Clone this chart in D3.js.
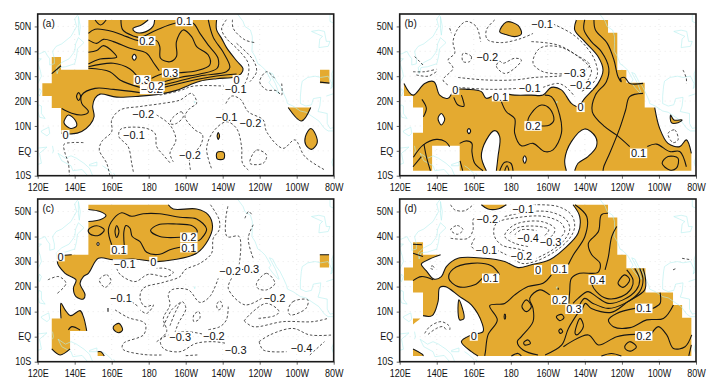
<!DOCTYPE html>
<html><head><meta charset="utf-8">
<script src="https://cdn.jsdelivr.net/npm/d3@7"></script>
<style>html,body{margin:0;padding:0;background:#fff}svg{display:block}text{font-family:"Liberation Sans",Arial,sans-serif;fill:#111}</style>
</head><body><svg id="c" width="715" height="389"></svg>
<script>
// Axis ticks
const lonTicks=[120,140,160,180,200,220,240,260,280];
const lonLabels=["120E","140E","160E","180","160W","140W","120W","100W","80W"];
const latTicks=[-10,0,10,20,30,40,50];
const latLabels=["10S","EQ","10N","20N","30N","40N","50N"];
const panelNames=["(a)","(b)","(c)","(d)"];

// Coastlines [lon,lat]
const coasts=[
[[143,56],[140,53],[141,50],[138,46],[133,43],[130,42],[128,40],[129,37],[129,35],[126.5,34.5],[126.5,37],[125,38.5],[124,40],[121,39],[119,39]],
[[119,37],[122,37],[120,35.5],[121.5,32],[122,30],[120,27],[118,24.5]],
[[130.5,31],[131.5,33.5],[135,33.8],[140,35],[141,38],[141.5,41],[145,43.5],[142,45.5],[140.5,43],[140,40],[137,37],[133,35.5],[130,33.5],[130.5,31]],
[[142,54],[143,50],[142.5,46.5],[142,49],[142,54]],
[[121,25],[122,24],[121,22],[120.2,23],[121,25]],
[[120.5,18.5],[122,18],[122,15],[124,13],[121,13.5],[120,16],[120.5,18.5]],
[[122,8],[126,9.5],[126.5,7],[125,6],[122,7.5],[122,8]],
[[119,1],[125,1.5],[121,-1],[122,-5],[120,-5.5],[119.5,-2]],
[[128,2],[128.5,0],[128,-1]],
[[131,-1],[135,-3],[138,-2],[141,-3],[145,-5],[148,-7],[150,-10.5],[147,-10],[144,-7.5],[139,-8],[138,-6],[133,-4],[131,-1]],
[[148,-5.5],[152,-4.5],[152,-6],[148,-6],[148,-5.5]],
[[155,-6],[157,-7],[160,-9]],
[[205,20],[204.5,19.5],[205,19.2],[205,20]],
[[222,56],[228,55],[231,52],[232,50],[235,48.5],[236,46],[236,43],[235.8,40],[237.5,38],[239,35],[241,34],[243,32.5],[245,30],[246,28.5],[245,27.5],[247,25.5],[250,23],[250.5,23],[248.5,27],[246,30.5],[245.3,31.5],[247,31],[249,28],[251,26],[253,23],[254.5,20.5],[255,19],[258,18],[262,16],[265,15.5],[268,14],[272,12],[275,9],[277,8],[281,8]],
[[262.5,26],[262,22],[262,19],[265,18],[268,18.5],[269,21],[273,21.5],[272.5,18],[271.5,15.8],[276.5,15],[276.5,11],[278,9],[281,9.5]],
[[262.5,26],[263,28],[266,29.5],[270,30],[273,29.5],[277,30],[279,27],[278.5,25],[279.5,26],[279,31],[281,35]],
[[272,41.5],[272.5,45],[274,46],[271,47],[268,48],[272,48.5],[275,48],[276,44],[278,44],[277,42],[272,41.5]],
[[278,56],[278,52],[281,51]],
[[280,-2.5],[279,-4.5],[279.5,-6],[281,-8]],
[[276,22],[280,23],[281,22.5]],
[[161,-9],[162,-10]]
];

// Panel (a). Third element 1 marks a corner of the data mask.
const aShade=[
[[147.4,52.6,1],[216.7,52.6,1],[216.7,48.6],[219.4,45.2],[222,41.6],[227.5,36.2],[231,33],[230,31],[226.7,29.7],[216.8,29],[207.7,28],[202.4,26.6],[195,24.3],[186,22.8],[175.3,22],[162.7,21.6],[153.7,22.8],[151,21.2],[149.7,17.9],[150.5,13.8],[148.3,10.5],[143.8,7.8],[138.4,6.8],[132.6,7.1,1],[132.6,17.2,1],[127.6,17.2,1],[127.6,22,1],[122.5,22,1],[122.5,27.2,1],[127.6,27.2,1],[127.6,37.7,1],[132.6,37.7,1],[132.6,32.6,1],[147.4,32.6,1]],
[[183.2,52.6,1],[182.3,50],[176.9,47.5],[172.4,47.9],[171.5,49.2],[176,50.6],[179.7,52.6,1]],
[[136.6,14.4],[140.2,12.4],[141,10],[137.8,9],[134.2,11.3]],
[[171.1,37.6],[172.2,38.8],[173.3,37.6],[172.2,36.4]],
[[217,6],[217.6,7.3],[218.3,6],[217.6,4.6]],
[[217,-.6],[220.6,-.6],[220.6,-3.2],[217,-3.2]],
[[267.6,9],[270.3,6.4],[271,3],[268,.6],[264.9,2.4],[264.7,5.7]],
[[255.4,17.4,1],[267.6,17.4,1],[262.6,12]],
[[272.6,32.6,1],[277.7,32.6,1],[277.7,27.2,1],[272.6,27.2,1]]
];
const aSolid=[
[[165,52.6],[166,48.6],[171.7,46.2],[175.3,45.6],[184.3,48.6],[194.2,51.3],[203.7,51.5],[207.7,47.2],[212.2,42.5],[217.5,37.2],[217,33.2],[207.7,30.9],[196.9,29.5],[186.4,27.4]],
[[147.4,47.2],[151,48.9],[160.9,47.9],[168,45.9],[174.4,44.3],[184.3,44.3],[186,41.9],[186.4,37.2],[191.5,35.8],[195,37.9],[195,43.9],[198.7,48.6],[203.2,45.9],[205.9,41.9],[212.2,38.5],[213,34.5],[205.9,32.2],[196.5,31.4],[187,30.9],[181.6,29.1]],
[[147.4,44.6],[151.9,43.2],[155.5,44.8],[160.9,43.9],[169.9,41.2],[178.9,39.2],[182.8,35.2],[185.7,32.2]],
[[147.4,39.6],[151.9,40.3],[155.5,42.3],[160.9,39.6],[162.7,37.6],[153.7,36.9],[147.4,34.9]],
[[147.4,33.8],[160.9,35.2],[169.9,32.9],[173.5,30.2]],
[[147.4,33.2],[159,31.8],[164.5,28.5],[175.3,25.5]],
[[175.3,23.4],[160.9,24.7],[151,25.1],[143.8,22.4],[143.8,19.1],[147.4,15.7],[143.8,14.4],[138.4,15.1],[133,17]],
[[186,25.1],[200.5,27.8],[216.7,30.1],[227.5,30.9]],
[[186,26.1],[195,27.8],[207.7,30.1],[222,31.8],[223.9,33.6],[220.3,39.6],[214.9,45.6],[212.2,52.6]],
[[127.6,31],[132.6,34.2]],
[[151,52.6],[154,50.6],[157,52.6]],
[[272.6,27.6],[277.7,27.2]]
];
const aLoops=[[[141,21.8],[142.1,23.4],[143.2,21.8],[142.1,20.2]]];
const aDashed=[
[[144.7,3.3],[138.4,3.3],[134.2,2.6],[134.8,-1],[136.6,-5],[137.1,-9.8]],
[[159,-10],[157.3,-5],[153.3,.3],[154.6,3.7],[160,7.7],[160,12.4],[164.5,16.4],[175.3,17.8],[187.9,19.1],[196.9,20.4],[203.2,23.1],[205.9,19.1],[202.3,17.1],[199.6,13.8],[205,8.4],[209.1,6.4],[207.7,1.7],[202.3,-2.3],[202.6,-7.7]],
[[171.7,-8.4],[170.8,-5],[168.9,1.7],[163.9,5.7],[164.5,8.4],[167.2,9.3],[178.9,9],[183.4,7],[184.3,1.7],[187.9,-1.7],[191.5,-4.8]],
[[184.3,14.4],[191.5,10.4],[194.7,4.4],[191.5,-1],[193.3,-4.4]],
[[213.9,-7],[211.3,1],[214.9,7.7],[222,11.7],[227.5,9],[230.2,1.7],[230.7,-5],[233.8,-7.7]],
[[221.7,19],[224.8,22],[229.6,20.7],[233.8,15.7],[241.9,12.4],[243.7,7.7],[252.6,1],[259,4.4],[264.4,-2.3],[275.2,-7.7]],
[[186,22.4],[196.9,24.2],[204,26],[221.2,26]],
[[222,52.7],[219.4,49],[222,45.2],[228.4,40.6],[233.8,35.2],[233.8,30.5],[232,27]],
[[225.3,52.7],[225.7,49.2],[232,44.6],[237.4,43.5]],
[[227.5,43.2],[236.5,36.5],[238.3,31.8],[234.7,27.8]],
[[248,29.2],[243.7,31.8],[240,27.8],[243.7,24.5],[249,24.2],[251.8,22.4],[251.8,27.8]]
];
const aDashedLoops=[
[[192,12.4],[197.7,15.7],[198.7,13.8],[195,11],[192,10.8]],
[[234.7,-5],[238.3,.3],[243.7,-1.7],[241.9,-5]]
];
const aLabelText=["−0.2","0.1","0.2","0.3","0.3","0.2","0","−0.1","−0.2","−0.1","−0.2","−0.1","−0.2","0"];
const aLabelLon=[181.6,199.2,179,191.8,176.5,184,227.5,227,177,172,202.3,222,235,135];
const aLabelLat=[24.7,52,44.2,31.4,28.5,26,28.5,25,14.7,6.4,-1.7,13.7,11,6.4];

// Panel (b)
const bShade=[
[[122.3,27.1,1],[127.2,22.4],[133.5,27.1],[138.5,27.8],[141.6,22.4],[146.1,21.1],[149.7,24.5],[156.9,24.7],[164.1,23.8],[166.8,21.1],[173.1,23.1],[182.1,22.4],[191.1,22.4],[197.4,22.4],[201.9,25.5],[207.3,24.5],[212.7,19.1],[216.3,17.8],[219.9,21.1],[227.1,27.1],[229.8,32.5],[227.1,37.9],[219.9,43.9],[214.5,48.6],[215.4,52.6,1],[232.5,52.6,1],[232.5,47.5,1],[237.5,47.5,1],[237.5,32.5,1],[242.4,32.5,1],[242.4,27.4,1],[252.3,27.4,1],[252.3,17.4,1],[257.7,17.4,1],[260.4,9],[264.9,3],[271.2,1.7],[274.8,4.4],[277.5,-1,1],[277.5,-8,1],[127.2,-8,1],[127.2,7.3,1],[132.6,7.3,1],[132.6,17.4,1],[127.2,17.4,1],[127.2,22,1],[122.3,22,1]],
[[137.5,2,1],[152.4,2,1],[152.4,-8,1],[137.5,-8,1]],
[[166.8,-8,1],[164.1,-2.3],[166.8,4.4],[171.3,8.1],[174,5.7],[173.1,-2.3],[172.2,-8,1]],
[[210,-8,1],[209.1,-3.7],[212.7,3.7],[219.9,8.8],[225.7,5.7],[226.2,1.7],[221.7,-2.3],[216.3,-5],[214.5,-8,1]],
[[140.7,13],[142.5,15],[144.3,12.7],[142.5,10.4]],
[[156.5,8],[157.4,9],[158.3,8],[157.4,6.9]],
[[186.6,-3.4],[187.5,-2],[188.4,-3.4],[187.5,-5]],
[[174,47.8],[177.6,51.8],[183.9,50.4],[185.7,47],[182.1,45.9],[176.7,46.9]],
[[266.3,14.4],[268.1,12.4],[272.5,12.4],[270.3,11.3],[266.7,11.3]]
];
const bSolid=[
[[219.9,52.6],[219.5,48.6],[223.5,43.9],[228.9,39.9],[232.9,33.2],[231.6,27.8],[225.7,22.4],[224,15.7],[230.7,9.7],[237,6.4],[244.2,1.7]],
[[253.7,1.7],[258.6,2.7],[265.8,-.3],[271.2,-.3],[274.8,-6.4]],
[[224.9,52.6],[225.7,48.6],[232.1,43.2],[235.7,36.5],[237.9,29.8],[239.7,27.8],[239.3,29.1],[241.5,29.5],[244.2,27.1],[251.4,27.1]],
[[251.4,23.1],[244.2,21.8],[242,16.4],[238.8,9],[233.4,-1],[230.2,-6.4],[229.8,-8]],
[[127.4,-2.6],[132.6,2.3],[139.8,4.6],[144.7,3.7],[147,1.7]],
[[133.1,2.7],[134.4,-2.3],[136.6,-8]],
[[127.2,-6.4],[131.7,-2.3]],
[[132,20.7],[134.4,17.1],[132.8,13.7]],
[[149.2,21.5],[151.5,18.4],[154.7,18],[154.2,20.4],[153.3,22.4]],
[[152.4,3],[156,4],[159,3],[159,-.3],[160.5,-5],[165,-8]],
[[174.9,19.8],[177.6,15.7],[182.1,13],[182.1,7],[185.7,2],[192,3],[198.3,-.3],[202.8,.4],[207.3,7],[206.4,14.4],[201.9,21.8],[198.3,22.4]],
[[174,-8],[176.7,-4.6],[180,-5],[181.2,-8]],
[[176.7,-8],[178,-6],[179,-8]],
[[154,-8],[152.6,-4]]
];
const bLoops=[
[[261.7,-5],[264.9,-2.3],[270.3,-3],[269.4,-7],[265.8,-7.7]],
[[189.3,11.7],[191.1,15.1],[196.5,18.4],[201,17],[203.3,12.4],[201,10.4],[196.9,10]]
];
const bDashed=[
[[146,26.5],[143.4,28.5],[148.8,33.2],[146.1,36.5],[149.7,39.2],[148.8,43.9],[151.5,49.2],[156,52],[161.4,49.9],[163.7,43.9]],
[[171.3,52.6],[166.8,48.6],[167.3,44.8],[174.9,43.5],[185.7,45.2],[192,47.2]],
[[202.8,51],[212.7,47.2],[219.9,42.5],[225.3,36.5],[226.7,30.5],[223.5,26.5],[218,23.8]],
[[191.1,43.9],[205.5,42.5],[216.3,37.9],[223.5,32.5],[221.7,28.5]],
[[210,30.9],[197.4,31.8],[192,35.2],[195.6,41.2],[205.5,41.9],[215.4,38.5],[222.6,34.5],[219,31.8]],
[[151.5,29.5],[165.9,28.5],[182.1,28.5],[192.9,29.5],[205.5,30],[210,30.4]],
[[151.5,25.5],[169.5,24.7],[183.9,25.1]],
[[197.4,25.5],[205.5,27.1],[210,25.5],[214.5,21.8]],
[[127.2,31.8],[133.5,31.8],[139.8,32.8]],
[[129,30.5],[135.3,30],[139.8,31.8]],
[[128.1,37.9],[132.6,34.5]],
[[147,49.3],[147.9,47.3]],
[[273,32.5],[274.8,29.1],[274.8,27.1]]
];
const bDashedLoops=[
[[154.2,39.2],[158.7,37.9],[157.8,35.9],[154.2,35.9]],
[[174,36],[172.2,34],[176.7,31.1],[182.1,33.2],[185.7,36.5],[182.1,37.2],[175.8,35.2]],
[[264.9,7],[268.5,8.4],[270.3,4.4],[267.6,3.3]]
];
const bLabelText=["−0.1","−0.2","−0.3","−0.2","−0.1","0","0.1","0","0.2","0.1"];
const bLabelLon=[196.9,167.3,214.5,217.7,190.2,150,174.4,217.7,192,249];
const bLabelLat=[51,37.6,31.4,26.5,25.1,24.5,21.8,17.5,10,-1];

// Panel (c)
const cShade=[
[[147.4,52.7,1],[147.4,50.8,1],[153.7,50],[156.9,48.4],[153.7,46.7],[147.4,46,1],[147.4,32.7,1],[138.4,32.7,1],[132.4,32],[130.6,30],[134.8,25.3],[140.7,22.7],[139.3,19.3],[140.7,16],[144.7,15],[145.6,16.7],[142.9,21.3],[144.7,24],[147.4,25.3],[152.8,31.3],[160.9,30.7],[171.7,31],[184.3,30],[193.3,30.7],[205.9,33.3],[212.2,38.7],[214.5,44],[212.2,48.7],[205.9,51],[193.3,51],[190.6,52.7,1]],
[[272.5,32.7,1],[277.5,32.7,1],[277.5,27.6,1],[272.5,27.6,1]],
[[127.6,7.3,1],[132.6,7.3,1],[132.6,13.3],[134.8,10.7],[137.8,8.4],[142.9,10.4],[144.7,8],[146.5,2.3,1],[137.5,2.3,1],[137.5,-4.9,1],[132.1,-7.3],[127.6,-4.9,1]],
[[160.9,4],[163.9,5.3],[165.9,2.7],[163.9,1.6],[161.2,2.7]],
[[152.4,-6,1],[154.2,-6],[156,-7.7,1],[152.4,-7.7,1]],
[[152,37],[152.6,37.6],[153.2,37],[152.6,36.4]]
];
const cSolid=[
[[160,36.7],[158.2,42.7],[160.9,47],[165.4,49.5],[170.8,48.1],[177,49.1],[186,49.1],[196.9,47.7],[205.9,47],[211.3,43],[208.6,39.3],[206.8,38.3]],
[[196.9,35.7],[191.5,34.7],[186,32.9],[178.9,33.7],[175.3,38],[171.1,40],[169.9,43.3],[167.7,44.4],[166.6,42],[166.8,36.4]],
[[196.9,39.7],[186,40],[181,42.4],[185.2,44.7],[195,45],[203.2,44.4],[206.2,42.3],[205.9,40.9]],
[[136.6,2.7],[138.4,4],[142.9,2.7]],
[[272.5,32.7],[277.5,32.7]],
[[158,11.5],[158,10]]
];
const cLoops=[
[[161.8,42],[162.7,44.4],[163.9,42],[162.7,39.6]],
[[147.4,42.7],[151.9,44.3],[156,42.7],[152.8,40.4],[148.3,41]]
];
const cDashed=[
[[213.4,52.7],[218.1,46.7],[218.1,42.7],[214.9,39.3],[214,33.3],[207.7,29.3],[199.6,26.7],[196.9,24],[187.9,21.7],[177,19.3],[175.3,15.3],[178,12],[182.5,12.7],[178.9,9.3],[175.3,10.7]],
[[161.8,10.7],[169,7.6],[178,5.3],[177.4,.9],[166.3,-2.7],[165.9,-4.9],[177,-7.1],[187.9,-7.3]],
[[170.8,14],[174.4,12]],
[[162.7,27.3],[164.5,24.9],[172.6,22],[179.8,24.9],[189.7,24],[193.3,25.7],[188.8,27.3],[184.3,27.3]],
[[125.5,22.7],[131.4,24],[135.3,21.3],[130.6,17.3]],
[[184.3,-2],[189.7,2],[187.9,7.3],[191.5,12.7],[190.6,16.7],[192.4,18.7],[201.4,18.7],[207.7,13.7],[213,16],[217.6,23.3]],
[[228.9,28.7],[228.9,40],[222.4,40],[221.7,47.3],[223,52.7]],
[[232,47.3],[234,50],[235.8,48.7]],
[[236.5,44.7],[233.8,39.3],[236.5,31.3]],
[[224.8,23.3],[223,19.3],[232,12.7],[241,15.3]],
[[231.6,6.3],[234.7,8.9],[243.7,13.3],[250.5,10],[248.2,8.4],[239.2,7.3]],
[[231.6,6.3],[236.5,4],[252.6,6],[268.8,6],[276.9,7.3]],
[[191.5,4.4],[195,10.7],[198.1,14],[200.1,11.3],[196,5.3],[194.2,1.7]],
[[211.3,.7],[200.5,2],[191.5,.9],[186.4,-1.3],[187.9,-4.7],[196.9,-6],[205.5,-2.7],[214.9,-2],[222.1,-2.7]],
[[187.9,4],[192.4,10.7],[197.7,14]],
[[223,12],[222,6.7],[218.5,4],[211.3,2.7]],
[[239.7,-2],[245.5,.7],[258,3.3],[267,.7],[279.7,.7]],
[[239.7,-2],[241.9,-5.3],[254.5,-6]],
[[267.1,-7.3],[275,-2]],
[[200,-7.6],[206.3,-7.3]]
];
const cDashedLoops=[
[[153.3,22.7],[157.3,24.7],[159.6,22.3],[156.4,19.7]],
[[238.3,21.3],[243.7,25.3],[248.2,21.3],[243.7,18.7],[239,19.3]],
[[204.4,8.7],[207.1,10],[207.6,7.3],[204.4,6]],
[[216.7,12.7],[218.5,14.3],[219.8,12],[217.7,10.7]],
[[255.4,10.7],[258,14],[266,14.7],[265,11.3],[256.5,8.7]]
];
const cLabelText=["−0.3","−0.2","0.2","0.1","0.1","0","0","−0.1","−0.1","−0.2","−0.3","−0.2","−0.3","−0.4"];
const cLabelLon=[233.8,224,201.7,201.7,163.9,182.5,132.4,167,165,248,197,215.2,227,262.6];
const cLabelLat=[27,26.3,39.7,35.6,34.7,30,32,29,15.3,15.6,0,.4,-5.3,-4.7];

// Panel (d)
const dShade=[
[[142.1,32.7,1],[132.6,32.7,1],[132.6,37.7,1],[127.2,37.7,1],[127.2,27.6,1],[122.3,27.6,1],[122.3,22.4,1],[127.2,22.4,1],[127.2,17.6,1],[132.6,17.6,1],[132.6,8.4,1],[137.5,8.4],[140.7,14],[141.6,19.6],[144.7,20],[152.4,16],[158.7,12.7],[164.5,5.3],[165,2],[158.7,.7],[153.3,-2],[158.7,-6],[162.3,-7.7,1],[277.5,-7.7,1],[277.5,7.6,1],[272.5,7.6,1],[272.5,12.7,1],[267.6,12.7,1],[267.6,17.6,1],[252.7,17.6,1],[252.7,27.3,1],[242.4,27.3,1],[242.4,32.7,1],[237.5,32.7,1],[237.5,47.6,1],[232.5,47.6,1],[232.5,52.7,1],[213.6,52.7,1],[217.2,48],[216.3,41.3],[209.1,35.3],[201,30.7],[191.1,28.7],[183.9,27.6],[176.7,30],[165.9,31.3],[151.5,31.3],[145.2,28],[142.5,24],[138.5,23],[134.4,26.3],[131.7,29],[136.2,31]],
[[152,14.7],[154.7,7.3],[152.4,6.7],[151.5,10]],
[[164.1,52.7,1],[177.6,52.7,1],[173,51],[167.7,51]],
[[127.2,7.3,1],[131.2,7.3,1],[127.2,4.9,1]],
[[127.2,-4.9,1],[132.6,-7.3],[132.6,-7.7,1],[127.2,-7.7,1]]
];
const dSolid=[
[[164.5,23.3],[160.5,20.7],[151.5,20],[146.5,23.3],[148.8,27],[158.7,29.3],[169.5,28.3],[174,24.7]],
[[127.2,36.9],[132,36.7]],
[[127.2,33.3],[132.6,32]],
[[127.2,22.4],[131.7,24],[138,22.7]],
[[214.7,52.7],[221,48],[220,40],[213.8,32.7],[211,28.7]],
[[201.9,24.7],[197.4,21.3],[189.3,20],[182.1,16.7],[176.7,13.3],[168.6,12.4],[172.7,6.7],[167.7,.7],[166.3,-6],[165.9,-7.7]],
[[232.5,49.3],[228.9,48.7],[227.3,42],[221.9,37.3],[223.7,32.7],[228.2,29.3],[227.1,25.7],[217.2,25.3],[212.7,23.3],[211.8,18],[211.3,13.3]],
[[237.2,44],[234.5,40],[232.7,32],[230.9,26.7]],
[[242.6,26.7],[246,22.7],[245.1,19.3],[239.7,16],[231.6,15.3],[226.2,18],[223.5,21.3],[223,23.3]],
[[246.9,27.3],[249.6,22.7],[247.8,18.7],[240.6,14.7],[232.5,13.3],[226.2,16],[221.7,18],[216.3,15.3],[213.6,13.3]],
[[249.6,27.3],[251.4,22.7],[249.6,18],[241.5,13.3],[232.5,11.3],[224.4,13.3],[219.9,15.3],[217.2,12.7]],
[[251.4,27.3],[252.7,23.3],[252.3,18.7],[243.3,14],[234.3,9.7],[223.5,11.3],[220.3,13.3],[218.5,10.7]],
[[247.1,11.3],[237.2,9.3],[232.7,6.7],[235.4,4],[244.4,3.6],[253.4,6.7],[262.4,7.3],[267.8,12.7]],
[[256.6,11.3],[260.6,13.3],[260.6,17.6]],
[[208.4,-4],[221.9,.7],[227.3,-3.3],[237.2,0],[247.1,.9]],
[[256.1,1.3],[259.7,4],[264.2,.7],[267.8,-4.7],[274.1,-4],[277.7,.7]],
[[198.5,-7.3],[207.5,-3.3],[211.1,3.3],[217.4,10.7]],
[[201,16.7],[195.6,18.7],[190.2,15.3],[192,11.3],[192,6],[185.7,0],[183.5,-2],[186.6,-5.3],[194.7,-7.3]],
[[180.3,-7.7],[183.9,-6.7],[185.7,-7.7]],
[[228.9,-7.7],[234.3,-6.7],[239.7,-7.7]],
[[277.5,-3.3],[276.1,-7.7]],
[[205.6,19.5],[205.6,18.7]]
];
const dLoops=[
[[237.9,21.3],[241.5,24.7],[244.2,22.7],[240.6,19.7]],
[[186,12],[188.4,14.7],[191.1,12],[188.4,10]],
[[214.7,1.3],[217.4,7.3],[219.2,4],[215.6,.7]],
[[204.6,8],[207.3,8.9],[208.7,7.6],[206.4,6.4]],
[[205.9,2.3],[206.9,3.1],[208,2],[206.8,1.3]],
[[187,-2.3],[189.3,-1.3],[190.6,-2.7],[187.5,-3.3]],
[[241.5,-4],[244.2,-2],[247.8,-4],[245.1,-5.7],[242.4,-5.3]],
[[176.4,8],[176.8,9],[177.2,8],[176.8,7]]
];
const dDashed=[
[[147.5,52.7],[149.7,50.7],[155.1,50.3],[159.6,52.7]],
[[147.5,39.3],[156.9,39.3],[159.6,42.7],[159.6,46.7],[161,48]],
[[160.5,39.3],[158.7,36],[162,34.7]],
[[172.2,34.7],[177.6,32.7]],
[[192,52.7],[205.5,52],[212.7,48.7],[214.5,44],[211.8,39.3],[203.7,34],[192.9,30],[185.7,29.3],[178.5,32.7]],
[[176.7,48],[190.4,50],[201.9,49.7],[210,46.7],[211.8,42.7],[208.2,38],[201,34],[193.8,31.3]],
[[192,32.7],[185.7,34.7],[174.9,36.7],[170.9,40.7],[172.2,45.3],[183.9,47.6],[198.3,48],[207.3,45.3],[209.1,42],[206.4,39.3]],
[[189.3,36],[182.1,37.3],[176.7,40],[178.5,42.7],[183.9,45.3],[196.5,46],[203.7,43.3],[202.8,40.7],[198.3,38.7]],
[[179.4,41.3],[183.9,43.6],[195.6,44],[200.5,42.7],[198.3,40.4]],
[[182.1,40.7],[185.7,42.7],[193.8,42.4]],
[[133.5,1.3],[136.2,4],[142.5,6],[147,4],[147,2.7]],
[[135.3,.9],[139.8,3.3],[143.4,4],[145.2,2.7]],
[[272.5,31.3],[277.5,30.7]],
[[267.6,26.7],[269.4,27.3]]
];
const dDashedLoops=[
[[147.5,42.7],[151.1,44.4],[154.2,42.7],[151.1,40.9]],
[[136.6,27.6],[137.5,28.3],[138.6,27.6],[137.5,26.9]]
];
const dLabelText=["−0.1","−0.2","−0.4","−0.3","−0.1","−0.2","0","0.1","0.1","0.4","0.2","0.3","0.1","0.2","0"];
const dLabelLon=[186.6,167.3,189.3,201.5,166.8,185.7,194.7,206.4,169.1,226.6,206.4,214.1,251.8,251.8,160];
const dLabelLat=[51,47,39.6,38,34.7,32.3,26.7,27,23.3,22.7,14.7,11,11.3,.3,.3];

const panels=[
 {shade:aShade,solid:aSolid,loops:aLoops,dashed:aDashed,dashedLoops:aDashedLoops,lt:aLabelText,lx:aLabelLon,ly:aLabelLat,box:[37.7,333.7,14,175.7]},
 {shade:bShade,solid:bSolid,loops:bLoops,dashed:bDashed,dashedLoops:bDashedLoops,lt:bLabelText,lx:bLabelLon,ly:bLabelLat,box:[399.7,696,14,175.7]},
 {shade:cShade,solid:cSolid,loops:cLoops,dashed:cDashed,dashedLoops:cDashedLoops,lt:cLabelText,lx:cLabelLon,ly:cLabelLat,box:[37.7,333.7,199,361.7]},
 {shade:dShade,solid:dSolid,loops:dLoops,dashed:dDashed,dashedLoops:dDashedLoops,lt:dLabelText,lx:dLabelLon,ly:dLabelLat,box:[399.7,696,199,361.7]}
];

const svg=d3.select("#c");
const ORANGE="#e4aa30",INK="#151515",COAST="#b4eeee";
panels.forEach((p,i)=>{
  const [L,R,T,B]=p.box;
  const x=d3.scaleLinear().domain([120,280]).range([L,R]);
  const y=d3.scaleLinear().domain([-10,55]).range([B,T]);
  const g=svg.append("g");
  const clipId="clip"+i;
  g.append("clipPath").attr("id",clipId).append("rect").attr("x",L).attr("y",T).attr("width",R-L).attr("height",B-T);
  const body=g.append("g").attr("clip-path",`url(#${clipId})`);
  const open=d3.line().x(d=>x(d[0])).y(d=>y(d[1])).curve(d3.curveCatmullRom.alpha(.5));
  const closed=d3.line().x(d=>x(d[0])).y(d=>y(d[1])).curve(d3.curveCatmullRomClosed.alpha(.5));
  const raw=d3.line().x(d=>x(d[0])).y(d=>y(d[1]));
  // grid
  body.append("g").selectAll("line").data(lonTicks.slice(1,-1)).join("line")
    .attr("x1",d=>x(d)).attr("x2",d=>x(d)).attr("y1",T).attr("y2",B)
    .attr("stroke","#dcdcdc").attr("stroke-width",.6).attr("stroke-dasharray","1,4");
  body.append("g").selectAll("line").data(latTicks.slice(1)).join("line")
    .attr("x1",L).attr("x2",R).attr("y1",d=>y(d)).attr("y2",d=>y(d))
    .attr("stroke","#dcdcdc").attr("stroke-width",.6).attr("stroke-dasharray","1,4");
  // shade
  const fillD=p.shade.map(r=>closed(r.flatMap(q=>q[2]?[q,q]:[q]))).join("");
  body.append("path").attr("d",fillD).attr("fill",ORANGE).attr("fill-rule","evenodd");
  // coast
  body.append("g").selectAll("path").data(coasts).join("path").attr("d",raw)
    .attr("fill","none").attr("stroke",COAST).attr("stroke-width",.6);
  // zero contours: shade edges between mask corners
  const zero=[];
  p.shade.forEach(r=>{
    const c=r.findIndex(q=>q[2]);
    if(c<0){zero.push(closed(r));return;}
    const rot=r.slice(c).concat(r.slice(0,c+1));
    let run=[rot[0]];
    for(let k=1;k<rot.length;k++){
      run.push(rot[k]);
      if(rot[k][2]){ if(run.length>2) zero.push(open(run)); run=[rot[k]]; }
    }
  });
  const solidStyle=s=>s.attr("fill","none").attr("stroke",INK).attr("stroke-width",1.1);
  body.append("g").selectAll("path").data(zero).join("path").attr("d",d=>d).call(solidStyle);
  body.append("g").selectAll("path").data(p.solid).join("path").attr("d",open).call(solidStyle);
  body.append("g").selectAll("path").data(p.loops).join("path").attr("d",closed).call(solidStyle);
  const dashStyle=s=>s.attr("fill","none").attr("stroke",INK).attr("stroke-width",.75).attr("stroke-dasharray","2.6,2");
  body.append("g").selectAll("path").data(p.dashed).join("path").attr("d",open).call(dashStyle);
  body.append("g").selectAll("path").data(p.dashedLoops).join("path").attr("d",closed).call(dashStyle);
  // contour labels
  p.lt.forEach((t,k)=>{
    const lg=body.append("g");
    const tx=lg.append("text").attr("x",x(p.lx[k])).attr("y",y(p.ly[k])).attr("text-anchor","middle")
      .attr("dominant-baseline","central").attr("font-size",11).text(t);
    const b=tx.node().getBBox();
    lg.insert("rect","text").attr("x",b.x-1).attr("y",y(p.ly[k])-4.8).attr("width",b.width+2).attr("height",9.6).attr("fill","#fff");
  });
  // panel letter
  g.append("text").attr("x",L+4.8).attr("y",T+13).attr("font-size",10).text(panelNames[i]);
  // frame
  g.append("rect").attr("x",L).attr("y",T).attr("width",R-L).attr("height",B-T).attr("fill","none").attr("stroke","#1a1a1a").attr("stroke-width",1.6);
  // axes
  const ax=d3.axisBottom(x).tickValues(lonTicks).tickSize(3).tickPadding(5).tickFormat((d,j)=>lonLabels[j]);
  const ay=d3.axisLeft(y).tickValues(latTicks).tickSize(3).tickPadding(3.5).tickFormat((d,j)=>latLabels[j]);
  const gx=g.append("g").attr("transform",`translate(0,${B})`).call(ax);
  const gy=g.append("g").attr("transform",`translate(${L},0)`).call(ay);
  [gx,gy].forEach(a=>{a.select(".domain").remove();a.selectAll("line").attr("stroke","#222").attr("stroke-width",.7);
    a.selectAll("text").attr("font-size",10).attr("font-family",'"Liberation Sans",Arial,sans-serif').attr("fill","#111")
      .each(function(){const w=this.getComputedTextLength();d3.select(this).attr("textLength",w*.9).attr("lengthAdjust","spacingAndGlyphs");});});
});
</script></body></html>
